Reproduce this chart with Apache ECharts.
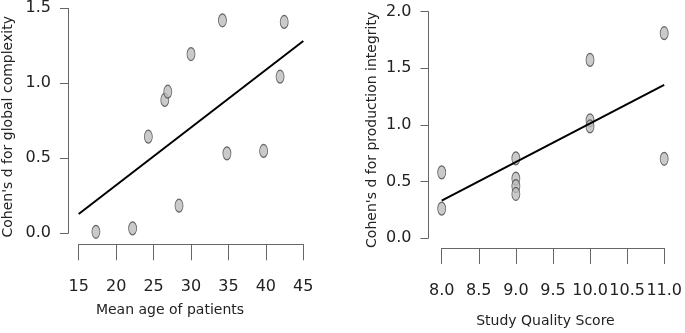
<!DOCTYPE html>
<html>
<head>
<meta charset="utf-8">
<script src="https://cdn.jsdelivr.net/npm/echarts@6/dist/echarts.min.js"></script>
<style>
  html, body { margin: 0; padding: 0; background: #fff; }
  #chart { width: 685px; height: 333px; }
</style>
</head>
<body>
<div id="chart"></div>
<script>
// left panel: mean age vs global complexity
var ageX = [17.3, 22.2, 24.3, 26.5, 26.9, 28.4, 30.0, 34.2, 34.8, 39.7, 41.9, 42.45];
var complexY = [0.01, 0.033, 0.644, 0.889, 0.944, 0.184, 1.195, 1.42, 0.533, 0.549, 1.044, 1.409];
var ageFit = [[15, 0.129], [45, 1.282]];

// right panel: study quality vs production integrity
var qualityX = [8, 8, 9, 9, 9, 9, 10, 10, 10, 11, 11];
var integrityY = [0.58, 0.26, 0.704, 0.525, 0.458, 0.389, 1.574, 1.04, 0.986, 1.81, 0.70];
var qualityFit = [[8, 0.33], [11, 1.354]];

var ageTicks = [15, 20, 25, 30, 35, 40, 45];
var qualityTicks = ['8.0', '8.5', '9.0', '9.5', '10.0', '10.5', '11.0'];

function pairs(xs, ys) {
    var out = [];
    for (var i = 0; i < xs.length; i++) {
        out.push([xs[i], ys[i]]);
    }
    return out;
}

var axisGray = '#666';
var font = 'DejaVu Sans';

function xAx(idx, min, max, interval, name, gap, off, padRight, labelFmt) {
    return {
        type: 'value', gridIndex: idx, min: min, max: max, interval: interval,
        offset: off,
        name: name, nameLocation: 'middle', nameGap: gap,
        nameTextStyle: { fontFamily: font, fontSize: 14, color: '#222', padding: [0, padRight, 0, 0] },
        axisLine: { show: true, onZero: false, lineStyle: { color: axisGray, width: 1 } },
        axisTick: { show: true, length: 16, lineStyle: { color: axisGray } },
        axisLabel: { fontFamily: font, fontSize: 16, color: '#222', margin: 35, formatter: labelFmt },
        splitLine: { show: false }
    };
}

function yAx(idx, max, name, gap, off, padRight) {
    return {
        type: 'value', gridIndex: idx, min: 0, max: max, interval: 0.5,
        offset: off,
        name: name, nameLocation: 'middle', nameGap: gap,
        nameTextStyle: { fontFamily: font, fontSize: 14, color: '#222', padding: [0, padRight, 0, 0] },
        axisLine: { show: true, onZero: false, lineStyle: { color: axisGray, width: 1 } },
        axisTick: { show: true, length: 8, lineStyle: { color: axisGray } },
        axisLabel: { fontFamily: font, fontSize: 16, color: '#222', margin: 17,
            formatter: function (v) { return v.toFixed(1); } },
        splitLine: { show: false }
    };
}

var pointStyle = { color: '#bdbdbd', borderColor: '#444', borderWidth: 1 };

var myChart = echarts.init(document.getElementById('chart'));
var option = {
    animation: false,
    grid: [
        { left: 78.7, top: 8.3, width: 224.6, height: 225 },
        { left: 441.7, top: 11.7, width: 225, height: 230 }
    ],
    xAxis: [
        xAx(0, 15, 45, 5, 'Mean age of patients', 59, 11, 42, function (v) { return String(v); }),
        xAx(1, 8, 11, 0.5, 'Study Quality Score', 66, 10, 15, function (v) { return v.toFixed(1); })
    ],
    yAxis: [
        yAx(0, 1.5, "Cohen's d for global complexity", 53, 10.7, 12),
        yAx(1, 2, "Cohen's d for production integrity", 49, 13.2, 10)
    ],
    series: [
        {
            type: 'line', xAxisIndex: 0, yAxisIndex: 0, data: ageFit,
            symbol: 'none', lineStyle: { color: '#000', width: 2 }, z: 2
        },
        {
            type: 'scatter', xAxisIndex: 0, yAxisIndex: 0, data: pairs(ageX, complexY),
            symbol: 'circle', symbolSize: [8, 13], itemStyle: pointStyle, z: 3
        },
        {
            type: 'line', xAxisIndex: 1, yAxisIndex: 1, data: qualityFit,
            symbol: 'none', lineStyle: { color: '#000', width: 2 }, z: 3
        },
        {
            type: 'scatter', xAxisIndex: 1, yAxisIndex: 1, data: pairs(qualityX, integrityY),
            symbol: 'circle', symbolSize: [8, 13], itemStyle: pointStyle, z: 2
        }
    ]
};
myChart.setOption(option);
</script>
</body>
</html>
